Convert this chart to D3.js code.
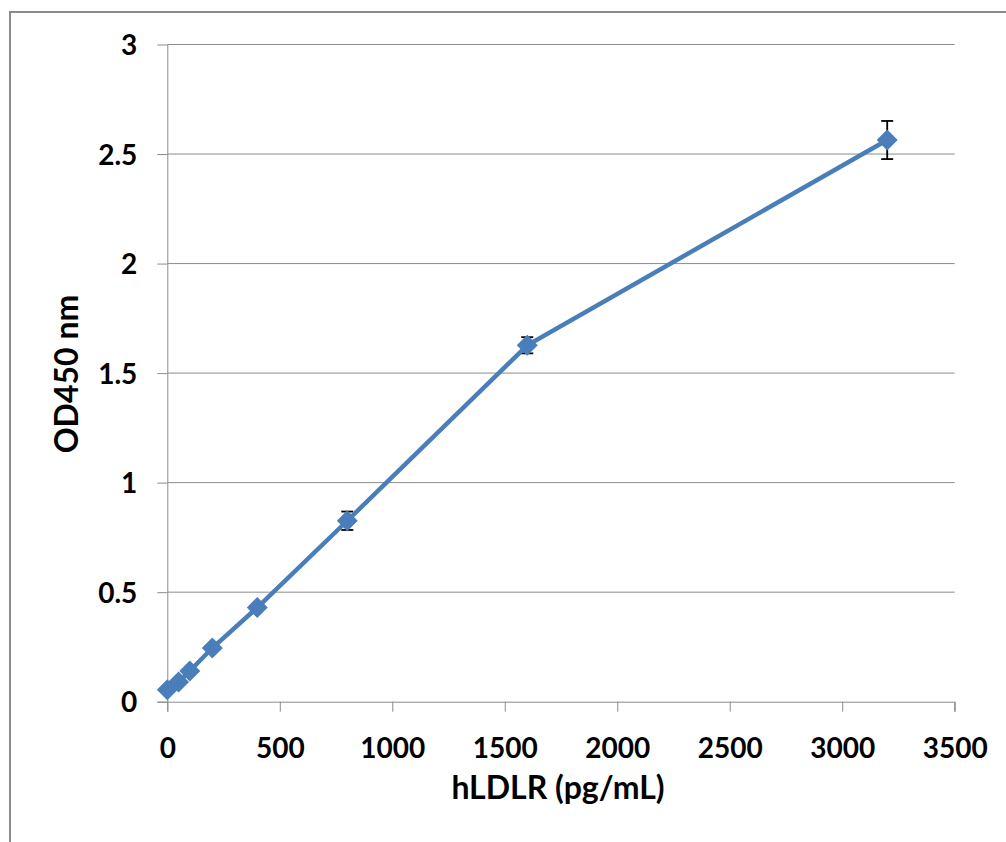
<!DOCTYPE html>
<html>
<head>
<meta charset="utf-8">
<script src="https://cdn.jsdelivr.net/npm/d3@7"></script>
<style>
  body { margin: 0; background: #fff; }
  text { font-family: Lato, "Open Sans", sans-serif; font-weight: bold; fill: #000; }
</style>
</head>
<body>
<div id="chart"></div>
<script>
// standard curve data
var conc = [0, 50, 100, 200, 400, 800, 1600, 3200];
var od = [0.055, 0.09, 0.14, 0.245, 0.43, 0.826, 1.627, 2.564];
var err = [0, 0, 0, 0, 0, 0.042, 0.037, 0.087];
var xTicks = [0, 500, 1000, 1500, 2000, 2500, 3000, 3500];
var yTicks = [0, 0.5, 1, 1.5, 2, 2.5, 3];

function init() {
    var w = 1006, h = 842;
    var pLeft = 167.3, pRight = 954.7, pTop = 44.5, pBottom = 701.7;
    var blue = "#4a7ebb";
    var grey = "#8c8c8c";

    var svg = d3.select("#chart").append("svg")
        .attr("width", w).attr("height", h);

    // outer frame
    svg.append("rect")
        .attr("x", 10).attr("y", 12)
        .attr("width", 1010).attr("height", 860)
        .attr("fill", "none").attr("stroke", "#8a8a8a").attr("stroke-width", 2);

    var x = d3.scaleLinear().domain([0, 3500]).range([pLeft, pRight]);
    var y = d3.scaleLinear().domain([0, 3]).range([pBottom, pTop]);

    // gridlines
    svg.append("g").selectAll("line")
        .data(yTicks.filter(function(d) { return d > 0; }))
        .enter().append("line")
        .attr("x1", pLeft).attr("x2", pRight)
        .attr("y1", function(d) { return y(d); })
        .attr("y2", function(d) { return y(d); })
        .attr("stroke", grey).attr("stroke-width", 1);

    // y axis
    var yAxis = svg.append("g")
        .attr("transform", "translate(" + pLeft + ",0)")
        .call(d3.axisLeft(y).tickValues(yTicks).tickSize(10).tickPadding(20)
            .tickFormat(function(d) { return d; }));
    yAxis.selectAll("path, line").attr("stroke", grey);
    yAxis.select(".domain").attr("d", "M0.5," + pTop + "V" + (pBottom + 10));
    yAxis.selectAll("text").style("font-size", "28px").attr("dy", "0.36em");

    // x axis
    var xAxis = svg.append("g")
        .attr("transform", "translate(0," + pBottom + ")")
        .call(d3.axisBottom(x).tickValues(xTicks).tickSize(10).tickPadding(26)
            .tickFormat(function(d) { return d; }));
    xAxis.selectAll("path, line").attr("stroke", grey);
    xAxis.select(".domain").attr("d", "M" + (pLeft - 10) + ",0.5H" + pRight + "V10");
    xAxis.selectAll("text").style("font-size", "28px");

    // axis titles
    svg.append("text")
        .attr("x", 558).attr("y", 799)
        .attr("text-anchor", "middle")
        .style("font-size", "32px")
        .text("hLDLR (pg/mL)");

    svg.append("text")
        .attr("transform", "translate(78,374) rotate(-90)")
        .attr("text-anchor", "middle")
        .style("font-size", "32px")
        .text("OD450 nm");

    var pts = conc.map(function(c, i) { return { x: c, y: od[i], e: err[i] }; });

    // error bars
    var eb = svg.append("g").selectAll("g")
        .data(pts.filter(function(d) { return d.e > 0; }))
        .enter().append("g")
        .attr("stroke", "#000").attr("stroke-width", 1.8);
    eb.append("line")
        .attr("x1", function(d) { return x(d.x); }).attr("x2", function(d) { return x(d.x); })
        .attr("y1", function(d) { return y(d.y + d.e); }).attr("y2", function(d) { return y(d.y - d.e); });
    eb.append("line")
        .attr("x1", function(d) { return x(d.x) - 6; }).attr("x2", function(d) { return x(d.x) + 6; })
        .attr("y1", function(d) { return y(d.y + d.e); }).attr("y2", function(d) { return y(d.y + d.e); });
    eb.append("line")
        .attr("x1", function(d) { return x(d.x) - 6; }).attr("x2", function(d) { return x(d.x) + 6; })
        .attr("y1", function(d) { return y(d.y - d.e); }).attr("y2", function(d) { return y(d.y - d.e); });

    // line
    svg.append("path")
        .datum(pts)
        .attr("fill", "none")
        .attr("stroke", blue)
        .attr("stroke-width", 4.5)
        .attr("d", d3.line().x(function(d) { return x(d.x); }).y(function(d) { return y(d.y); }));

    // markers
    svg.append("g").selectAll("path")
        .data(pts).enter().append("path")
        .attr("d", d3.symbol().type(d3.symbolSquare).size(220))
        .attr("transform", function(d) { return "translate(" + x(d.x) + "," + y(d.y) + ") rotate(45)"; })
        .attr("fill", blue);
}
window.onload = init;
</script>
</body>
</html>
